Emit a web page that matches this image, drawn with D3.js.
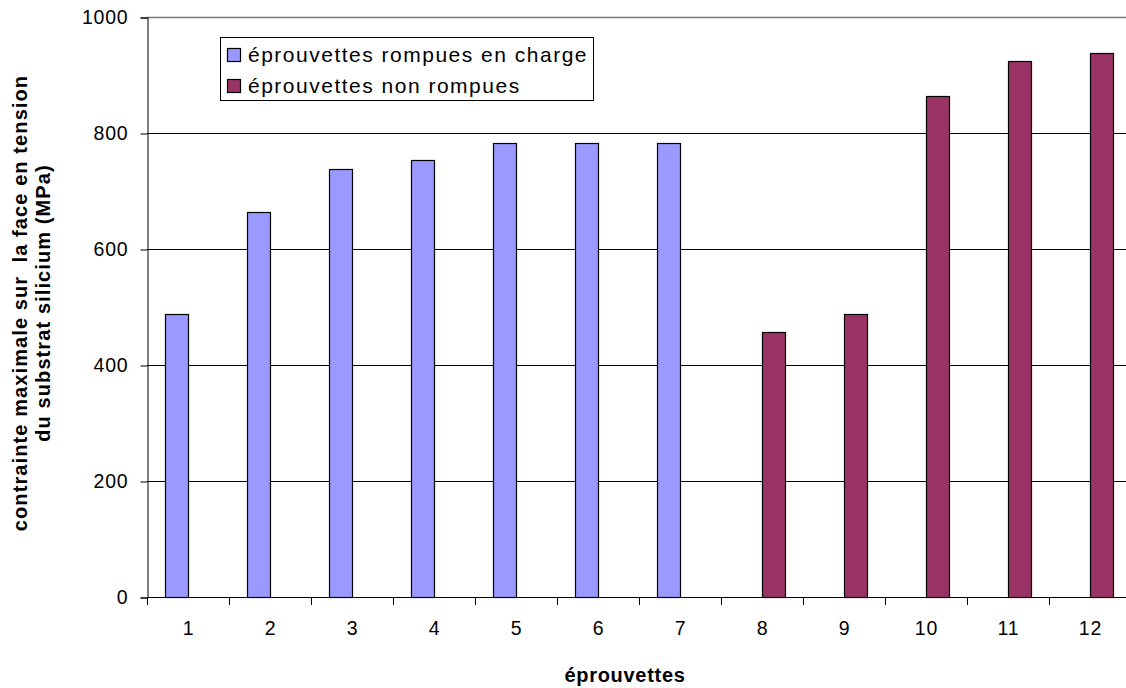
<!DOCTYPE html>
<html>
<head>
<meta charset="utf-8">
<script src="https://cdn.jsdelivr.net/npm/d3@7"></script>
<style>
  html, body { margin: 0; padding: 0; background: #fff; overflow: hidden; }
  svg { display: block; font-family: "Liberation Sans", Arial, sans-serif; }
</style>
</head>
<body>
<svg id="chart" width="1126" height="688"></svg>
<script>
// ---- data ----
const categories = ["1", "2", "3", "4", "5", "6", "7", "8", "9", "10", "11", "12"];
const seriesNames = ["éprouvettes rompues en charge", "éprouvettes non rompues"];
const rompuesEnCharge = [488, 664, 738, 753, 783, 783, 783, null, null, null, null, null];
const nonRompues = [null, null, null, null, null, null, null, 457, 488, 864, 924, 938];
const yTicks = [0, 200, 400, 600, 800, 1000];
const xTitle = "éprouvettes";
const yTitleLines = ["contrainte maximale sur  la face en tension", "du substrat silicium (MPa)"];
const seriesColors = ["#9999FF", "#993366"];

// ---- layout ----
const svg = d3.select("#chart");
const plotLeft = 147, plotTop = 17, plotBottom = 597, step = 82;
const plotRight = plotLeft + step * categories.length;

const x = d3.scaleBand().domain(categories).range([plotLeft, plotRight]).padding(0);
const xs = d3.scaleBand().domain([0, 1]).range([0, x.bandwidth()]).paddingInner(0).paddingOuter(0.75);
const y = d3.scaleLinear().domain([0, 1000]).range([plotBottom, plotTop]);

// gridlines
svg.append("g").selectAll("line").data(yTicks.filter(d => d > 0)).join("line")
  .attr("x1", plotLeft).attr("x2", plotRight)
  .attr("y1", d => Math.round(y(d)) + 0.5).attr("y2", d => Math.round(y(d)) + 0.5)
  .attr("stroke", d => d === 1000 ? "#777" : "#000").attr("stroke-width", d => d === 1000 ? 1.5 : 1);

// bars
const seriesData = [rompuesEnCharge, nonRompues];
seriesData.forEach((vals, si) => {
  svg.append("g").selectAll("rect")
    .data(categories.map((c, i) => ({ c, v: vals[i] })).filter(d => d.v != null))
    .join("rect")
    .attr("x", d => Math.round(x(d.c) + xs(si)) + 0.5)
    .attr("y", d => Math.round(y(d.v)) + 0.5)
    .attr("width", Math.round(xs.bandwidth()))
    .attr("height", d => Math.round(y(0)) - Math.round(y(d.v)))
    .attr("fill", seriesColors[si])
    .attr("stroke", "#000").attr("stroke-width", 1.2);
});

// y axis
const yAxis = svg.append("g").attr("transform", `translate(${plotLeft + 0.5},0.5)`)
  .call(d3.axisLeft(y).tickValues(yTicks).tickSize(7).tickPadding(12).tickFormat(d3.format("d")));
yAxis.selectAll("text").attr("font-size", 19.5).attr("fill", "#000").attr("font-family", "Liberation Sans, Arial, sans-serif").style("letter-spacing", "0.8px");
yAxis.selectAll("line, path").attr("stroke", "#000");

// x axis
const xAxis = svg.append("g").attr("transform", `translate(0.5,${plotBottom + 0.5})`)
  .call(d3.axisBottom(x).tickSize(0).tickPadding(24));
xAxis.select("path").attr("stroke", "#000").attr("d", `M${plotLeft},0H${plotRight}`);
xAxis.selectAll("text").attr("font-size", 19.5).attr("fill", "#000").attr("font-family", "Liberation Sans, Arial, sans-serif").style("letter-spacing", "0.8px");
// category separator ticks
svg.append("g").selectAll("line").data(d3.range(categories.length + 1)).join("line")
  .attr("x1", i => plotLeft + i * step + 0.5).attr("x2", i => plotLeft + i * step + 0.5)
  .attr("y1", plotBottom).attr("y2", plotBottom + 8)
  .attr("stroke", "#000");

// axis titles
svg.append("text").attr("x", 625).attr("y", 682).attr("text-anchor", "middle")
  .attr("font-size", 20).attr("font-weight", "bold").style("letter-spacing", "0.7px").text(xTitle);

const yt = svg.append("text").attr("transform", "translate(27,303) rotate(-90)")
  .attr("text-anchor", "middle").attr("font-size", 20).attr("font-weight", "bold")
  .style("letter-spacing", "1.1px").style("white-space", "pre");
yTitleLines.forEach((t, i) => yt.append("tspan").attr("x", 0).attr("dy", i === 0 ? 0 : 23).text(t));

// legend
const lg = svg.append("g");
lg.append("rect").attr("x", 220.5).attr("y", 37.5).attr("width", 373).attr("height", 63)
  .attr("fill", "#fff").attr("stroke", "#000").attr("stroke-width", 1);
seriesNames.forEach((name, i) => {
  const cy = 55 + i * 31;
  lg.append("rect").attr("x", 227.5).attr("y", cy - 6.5).attr("width", 13).attr("height", 13)
    .attr("fill", seriesColors[i]).attr("stroke", "#000").attr("stroke-width", 1.2);
  lg.append("text").attr("x", 248).attr("y", cy).attr("dy", "0.35em")
    .attr("font-size", 21).style("letter-spacing", "1.5px").text(name);
});
</script>
</body>
</html>
